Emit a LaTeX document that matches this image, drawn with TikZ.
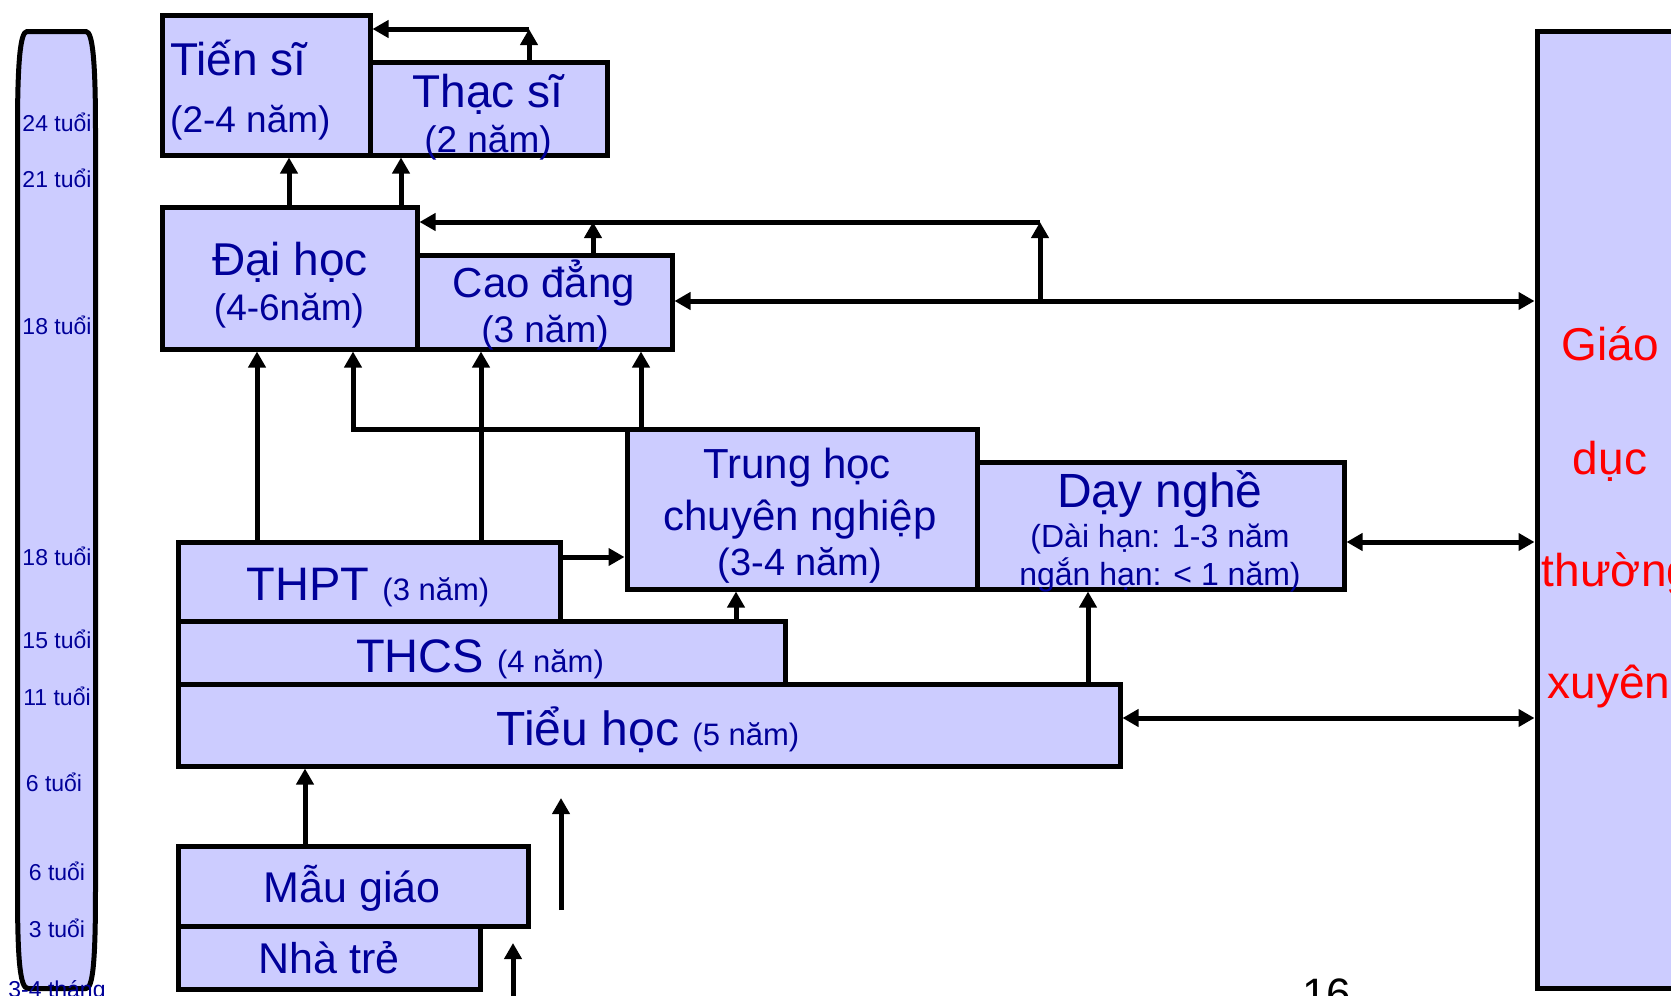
\documentclass[tikz,border=0pt]{standalone}
\usepackage{fontspec}
\setmainfont{Liberation Sans}
\usetikzlibrary{arrows.meta}
\definecolor{boxfill}{RGB}{204,204,255}
\definecolor{txtblue}{RGB}{0,0,153}
\definecolor{gdred}{RGB}{255,0,0}
\newcommand{\fsz}[1]{\fontsize{#1}{#1}\selectfont}
\begin{document}
\begin{tikzpicture}[x=1pt,y=-1pt,
  box/.style={draw=black, fill=boxfill, line width=5pt, inner sep=0pt, outer sep=2.5pt, anchor=north west},
  lbl/.style={text=txtblue, inner sep=0pt, anchor=base},
  redlbl/.style={text=gdred, inner sep=0pt, anchor=base},
  age/.style={text=txtblue, inner sep=0pt, anchor=base, font=\fsz{23}},
  arr/.style={line width=5pt, -{Triangle[length=16pt,width=17pt]}},
  darr/.style={line width=5pt, {Triangle[length=16pt,width=17pt]}-{Triangle[length=16pt,width=17pt]}},
]
\useasboundingbox (0,0) rectangle (1671,996);
\fill[white] (0,0) rectangle (1671,996);
\clip (0,0) rectangle (1671,996);

% age bar
\draw[line width=5pt, fill=boxfill, line join=round] (27,31.5) -- (86,31.5)
  .. controls (93,31.5) and (95.5,65) .. (95.5,130) -- (95.5,890)
  .. controls (95.5,960) and (93,988.5) .. (86,988.5) -- (28,988.5)
  .. controls (20,988.5) and (17.5,960) .. (17.5,890) -- (17.5,130)
  .. controls (17.5,65) and (20,31.5) .. (27,31.5) -- cycle;

% boxes
\node[box, minimum width=208pt, minimum height=140pt] (ts) at (159.5,12.5) {};
\node[box, minimum width=237pt, minimum height=93pt] (thac) at (367.5,59.5) {};
\node[box, minimum width=255pt, minimum height=142pt] (dh) at (159.5,204.5) {};
\node[box, minimum width=255pt, minimum height=94pt] (cd) at (414.5,252.5) {};
\node[box, minimum width=350pt, minimum height=160pt] (thcn) at (624.5,426.5) {};
\node[box, minimum width=367pt, minimum height=127pt] (dn) at (974.5,459.5) {};
\node[box, minimum width=382pt, minimum height=79pt] (thpt) at (175.5,539.5) {};
\node[box, minimum width=607pt, minimum height=63pt] (thcs) at (175.5,618.5) {};
\node[box, minimum width=942pt, minimum height=82pt] (th) at (175.5,681.5) {};
\node[box, minimum width=350pt, minimum height=80pt] (mg) at (175.5,843.5) {};
\node[box, minimum width=302pt, minimum height=63pt] (nt) at (175.5,923.5) {};
\node[box, minimum width=200pt, minimum height=957pt] (gd) at (1534.5,28.5) {};

% connectors
\coordinate (p1) at (529,29);
\draw[arr] (thac.north -| p1) -- (p1);
\draw[arr] (p1) -- (ts.east |- p1);
\coordinate (p2) at (289,0);
\coordinate (p3) at (401,0);
\draw[arr] (dh.north -| p2) -- (ts.south -| p2);
\draw[arr] (dh.north -| p3) -- (thac.south -| p3);
\coordinate (p4) at (593,222);
\coordinate (p5) at (1040,222);
\coordinate (p6) at (1040,301);
\draw[arr] (cd.north -| p4) -- (p4);
\draw[arr] (p6) -- (p5);
\draw[arr] (p5) -- (dh.east |- p5);
\draw[darr] (cd.east |- p6) -- (gd.west |- p6);
\coordinate (p7) at (257,0);
\coordinate (p8) at (481,0);
\draw[arr] (thpt.north -| p7) -- (dh.south -| p7);
\draw[arr] (thpt.north -| p8) -- (cd.south -| p8);
\coordinate (p9) at (353,429);
\draw[arr] (thcn.north west |- p9) -- (p9) -- (dh.south -| p9);
\coordinate (p10) at (641,0);
\draw[arr] (thcn.north -| p10) -- (cd.south -| p10);
\coordinate (p11) at (0,557);
\draw[arr] (thpt.east |- p11) -- (thcn.west |- p11);
\coordinate (p12) at (736,0);
\draw[arr] (thcs.north -| p12) -- (thcn.south -| p12);
\coordinate (p13) at (1088,0);
\draw[arr] (th.north -| p13) -- (dn.south -| p13);
\coordinate (p14) at (0,542);
\draw[darr] (dn.east |- p14) -- (gd.west |- p14);
\coordinate (p15) at (0,718);
\draw[darr] (th.east |- p15) -- (gd.west |- p15);
\coordinate (p16) at (305,0);
\draw[arr] (mg.north -| p16) -- (th.south -| p16);
\coordinate (f1) at (561,910);
\coordinate (f2) at (561,798);
\draw[arr] (f1) -- (f2);
\coordinate (f3) at (513,1000);
\coordinate (f4) at (513,943);
\draw[arr] (f3) -- (f4);

% texts
\node[lbl, anchor=base west] (tts1) at (170,75) {\fsz{46}Tiến sĩ};
\node[lbl, anchor=base west] (tts2) at (170,132) {\fsz{37}(2-4 năm)};
\node[lbl] (tth1) at (488,107) {\fsz{46}Thạc sĩ};
\node[lbl] (tth2) at (488,152) {\fsz{37}(2 năm)};
\node[lbl] (tdh1) at (290,275) {\fsz{46}Đại học};
\node[lbl] (tdh2) at (289,320) {\fsz{37}(4-6năm)};
\node[lbl] (tcd1) at (544,297) {\fsz{42}Cao đẳng};
\node[lbl] (tcd2) at (545,342) {\fsz{37}(3 năm)};
\node[lbl] (tcn1) at (797,478) {\fsz{42}Trung học};
\node[lbl] (tcn2) at (800,530) {\fsz{42}chuyên nghiệp};
\node[lbl] (tcn3) at (800,575) {\fsz{38}(3-4 năm)};
\node[lbl] (tdn1) at (1160,507) {\fsz{48}Dạy nghề};
\node[lbl] (tdn2) at (1160,547) {\fsz{32}(Dài hạn: 1-3 năm};
\node[lbl] (tdn3) at (1160,585) {\fsz{32}ngắn hạn: < 1 năm)};
\node[lbl] (tpt) at (368,600) {\fsz{47}THPT \fsz{31}(3 năm)};
\node[lbl] (tcs) at (480,672) {\fsz{47}THCS \fsz{31}(4 năm)};
\node[lbl] (tth) at (648,745) {\fsz{48}Tiểu học \fsz{31}(5 năm)};
\node[lbl] (tmg) at (352,902) {\fsz{43}Mẫu giáo};
\node[lbl] (tnt) at (329,973) {\fsz{43}Nhà trẻ};

\node[redlbl] (g1) at (1610,360) {\fsz{46}Giáo};
\node[redlbl] (g2) at (1610,474) {\fsz{46}dục};
\node[redlbl] (g3) at (1617,586) {\fsz{46}thường};
\node[redlbl] (g4) at (1609,698) {\fsz{46}xuyên};

\node[age] (a1) at (57,131) {24 tuổi};
\node[age] (a2) at (57,187) {21 tuổi};
\node[age] (a3) at (57,334) {18 tuổi};
\node[age] (a4) at (57,565) {18 tuổi};
\node[age] (a5) at (57,648) {15 tuổi};
\node[age] (a6) at (57,705) {11 tuổi};
\node[age] (a7) at (54,791) {6 tuổi};
\node[age] (a8) at (57,880) {6 tuổi};
\node[age] (a9) at (57,937) {3 tuổi};
\node[age] (a10) at (57,997) {3-4 tháng};

\node[inner sep=0pt, anchor=base west, text=black] (pg) at (1302,1009) {\fsz{44}16};
\end{tikzpicture}
\end{document}
